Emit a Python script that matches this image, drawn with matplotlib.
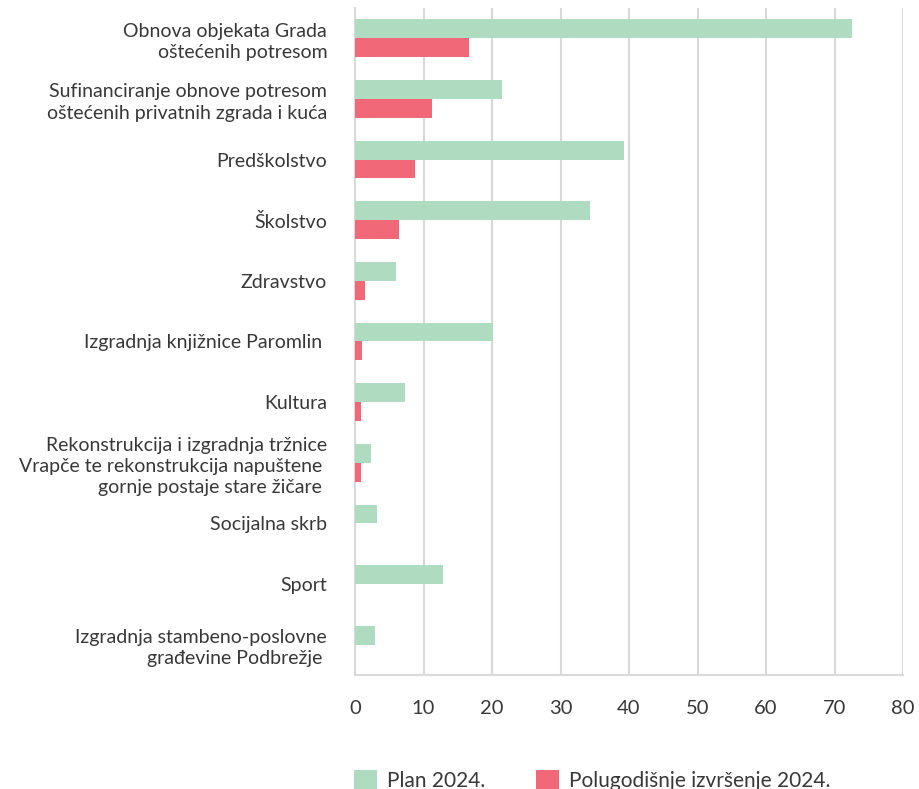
import matplotlib
matplotlib.use("Agg")
import matplotlib.pyplot as plt
import numpy as np

plt.rcParams['font.family'] = ['Lato', 'DejaVu Sans']

categories = [
    "Obnova objekata Grada\noštećenih potresom",
    "Sufinanciranje obnove potresom\noštećenih privatnih zgrada i kuća",
    "Predškolstvo",
    "Školstvo",
    "Zdravstvo",
    "Izgradnja knjižnice Paromlin ",
    "Kultura",
    "Rekonstrukcija i izgradnja tržnice\nVrapče te rekonstrukcija napuštene \ngornje postaje stare žičare ",
    "Socijalna skrb",
    "Sport",
    "Izgradnja stambeno-poslovne\ngrađevine Podbrežje ",
]
plan_2024 = [72.6, 21.5, 39.3, 34.3, 6.0, 20.1, 7.3, 2.3, 3.2, 12.8, 2.9]
polugodisnje_2024 = [16.6, 11.2, 8.8, 6.4, 1.45, 1.0, 0.85, 0.85, 0, 0, 0]
series_names = ["Plan 2024.", "Polugodišnje izvršenje 2024."]

green = "#afdbc0"
red = "#f16878"
text_col = "#383838"

fig = plt.figure(figsize=(9.19, 7.89), dpi=100)
ax = fig.add_axes([0.3863, 0.1445, 0.5963, 0.8455])

y = np.arange(len(categories))
h = 0.31
ax.barh(y - h / 2, plan_2024, height=h, color=green, label=series_names[0], zorder=3)
ax.barh(y + h / 2, polugodisnje_2024, height=h, color=red, label=series_names[1], zorder=3)

ax.set_ylim(len(categories) - 0.5, -0.5)
ax.set_xlim(0, 80)
ax.set_xticks(np.arange(0, 81, 10))
ax.set_yticks(y)
ax.set_yticklabels(categories, fontsize=14, color=text_col, linespacing=1.3)
ax.tick_params(axis='y', length=0, pad=20)
ax.tick_params(axis='x', length=0, pad=18, labelsize=14.5, labelcolor=text_col)

ax.grid(axis='x', color='#d9d9d9', linewidth=1.5, zorder=0)
for s in ['top', 'right']:
    ax.spines[s].set_visible(False)
ax.spines['left'].set_color('#d9d9d9')
ax.spines['left'].set_linewidth(1.5)
ax.spines['bottom'].set_color('#d9d9d9')
ax.spines['bottom'].set_linewidth(1.5)

leg = fig.legend(loc='lower left', bbox_to_anchor=(0.3644, -0.026), ncol=2, frameon=False,
                 handlelength=1.1, handleheight=1.1, columnspacing=2.42, handletextpad=0.5,
                 prop={'size': 15})
for t in leg.get_texts():
    t.set_color(text_col)

fig.savefig("out.png", dpi=100)
